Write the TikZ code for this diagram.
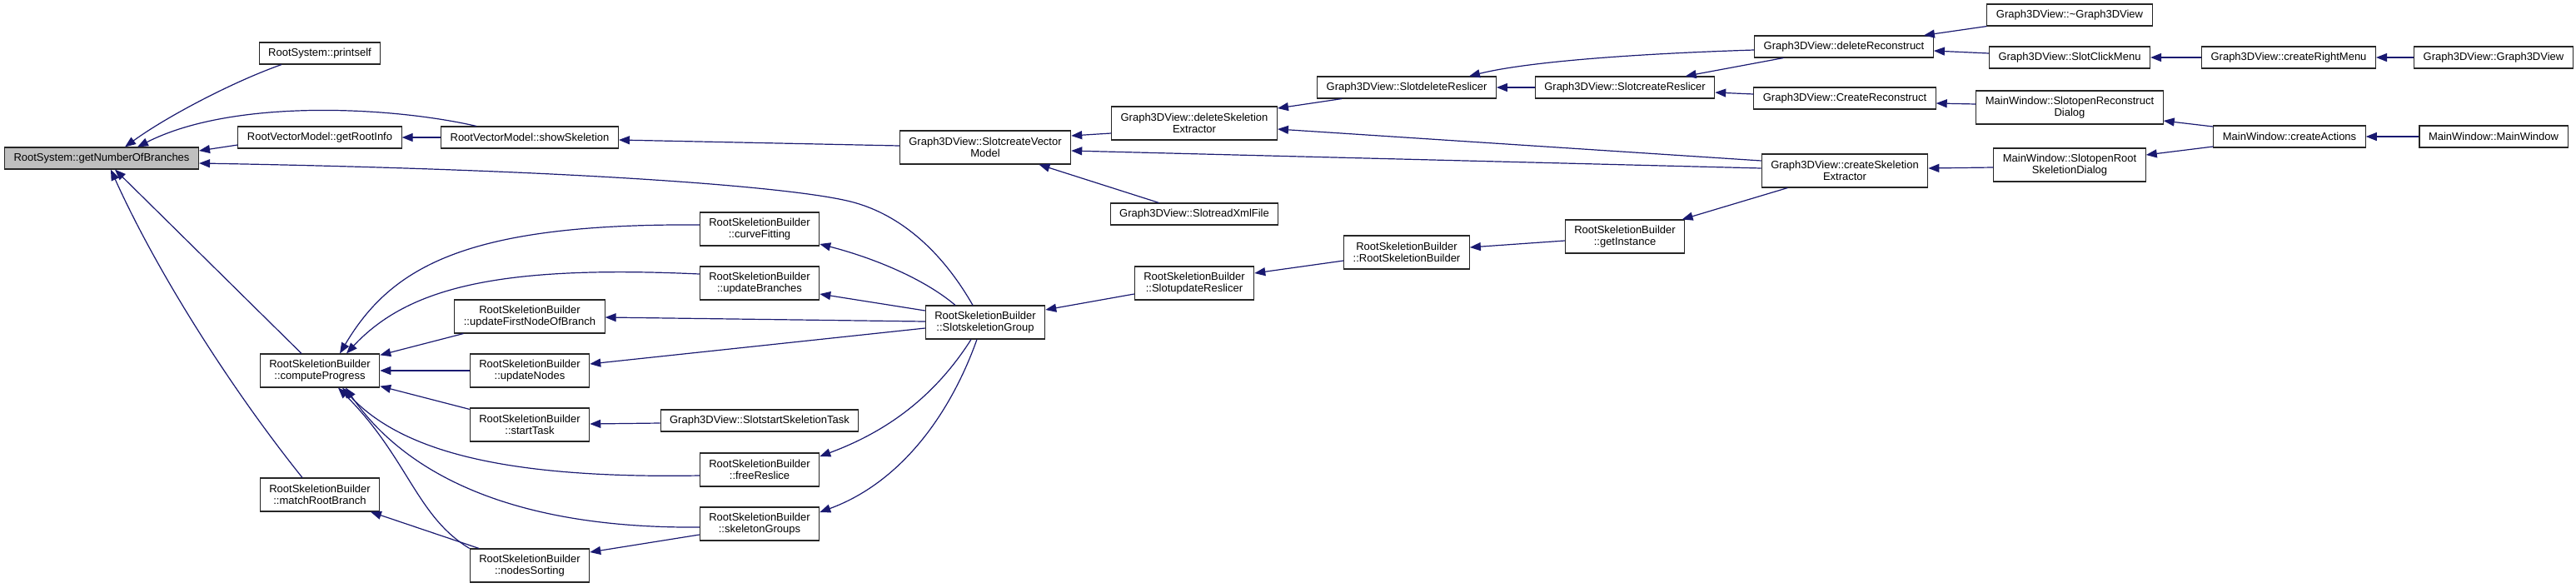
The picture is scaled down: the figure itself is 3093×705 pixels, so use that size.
\documentclass[tikz,border=0pt]{standalone}
\usepackage{fontspec}
\setmainfont{Liberation Sans}
\usetikzlibrary{arrows.meta,calc}
\definecolor{callblue}{HTML}{191970}
\definecolor{rootgrey}{HTML}{BFBFBF}
\tikzset{>={Triangle[length=13pt,width=10pt]},every node/.style={font=\fontsize{13}{14.5}\selectfont},
fn/.style={draw=black!85,line width=1.1pt,fill=white,inner xsep=11pt,inner ysep=2pt,minimum height=26pt,align=center},
fn2/.style={fn,minimum height=40pt},root/.style={fn,fill=rootgrey},call/.style={->,draw=callblue,line width=1.2pt}}
\begin{document}
\begin{tikzpicture}[x=1pt,y=-1pt]
\useasboundingbox (0,0) rectangle (3093,705);
% functions, column by column
\node[root] (nob) at (122,190) {RootSystem::getNumberOfBranches};
\node[fn] (prt) at (384,64) {RootSystem::printself};
\node[fn] (rinfo) at (384,165) {RootVectorModel::getRootInfo};
\node[fn2] (cprog) at (384,445) {RootSkeletionBuilder\\::computeProgress};
\node[fn2] (mrb) at (384,594) {RootSkeletionBuilder\\::matchRootBranch};
\node[fn] (skel) at (636,165) {RootVectorModel::showSkeletion};
\node[fn2] (ufn) at (636,380) {RootSkeletionBuilder\\::updateFirstNodeOfBranch};
\node[fn2] (unodes) at (636,445) {RootSkeletionBuilder\\::updateNodes};
\node[fn2] (stask) at (636,510) {RootSkeletionBuilder\\::startTask};
\node[fn2] (nsort) at (636,679) {RootSkeletionBuilder\\::nodesSorting};
\node[fn2] (cfit) at (912,275) {RootSkeletionBuilder\\::curveFitting};
\node[fn2] (ubr) at (912,340) {RootSkeletionBuilder\\::updateBranches};
\node[fn] (sst) at (912,505) {Graph3DView::SlotstartSkeletionTask};
\node[fn2] (frs) at (912,564) {RootSkeletionBuilder\\::freeReslice};
\node[fn2] (sgs) at (912,629) {RootSkeletionBuilder\\::skeletonGroups};
\node[fn2] (cvm) at (1183,177) {Graph3DView::SlotcreateVector\\Model};
\node[fn2] (ssg) at (1183,387) {RootSkeletionBuilder\\::SlotskeletionGroup};
\node[fn2] (dse) at (1434,148) {Graph3DView::deleteSkeletion\\Extractor};
\node[fn] (rxml) at (1434,257) {Graph3DView::SlotreadXmlFile};
\node[fn2] (sur) at (1434,340) {RootSkeletionBuilder\\::SlotupdateReslicer};
\node[fn] (sdr) at (1689,105) {Graph3DView::SlotdeleteReslicer};
\node[fn2] (rsb) at (1689,303) {RootSkeletionBuilder\\::RootSkeletionBuilder};
\node[fn] (scr) at (1951,105) {Graph3DView::SlotcreateReslicer};
\node[fn2] (ginst) at (1951,284) {RootSkeletionBuilder\\::getInstance};
\node[fn] (drec) at (2214,56) {Graph3DView::deleteReconstruct};
\node[fn] (crec) at (2215,118) {Graph3DView::CreateReconstruct};
\node[fn2] (cse) at (2215,205) {Graph3DView::createSkeletion\\Extractor};
\node[fn] (dtor) at (2485,18) {Graph3DView::\textasciitilde Graph3DView};
\node[fn] (sclick) at (2485,69) {Graph3DView::SlotClickMenu};
\node[fn2] (sord) at (2485,129) {MainWindow::SlotopenReconstruct\\Dialog};
\node[fn2] (sorsd) at (2485,198) {MainWindow::SlotopenRoot\\SkeletionDialog};
\node[fn] (crm) at (2748,69) {Graph3DView::createRightMenu};
\node[fn] (cact) at (2749,164) {MainWindow::createActions};
\node[fn] (ctor) at (2994,69) {Graph3DView::Graph3DView};
\node[fn] (mwin) at (2994,164) {MainWindow::MainWindow};
% calls into the first columns
\draw[call] ($(prt.south)+(-46,0)$) .. controls (280,98) and (200,140) .. ($(nob.north)+(28,0)$);
\draw[call] ($(skel.north)+(-64,0)$) .. controls (470,128) and (280,118) .. ($(nob.north)+(43,0)$);
\draw[call] ($(rinfo.west)+(0,9)$) -- ($(nob.east)+(0,-9)$);
\draw[call] ($(ssg.north)+(-15,0)$) .. controls (1130,300) and (1080,258) .. (1025,243) .. controls (960,225) and (700,204) .. ($(nob.east)+(0,6)$);
\draw[call] ($(cprog.north)+(-22,0)$) -- ($(nob.south)+(16,0)$);
\draw[call] ($(mrb.north)+(-21,0)$) .. controls (280,470) and (190,330) .. ($(nob.south)+(11,0)$);
\draw[call] ($(cvm.west)+(0,-2)$) -- ($(skel.east)+(0,3)$);
\draw[call] (skel) -- (rinfo);
\draw[call] ($(cfit.west)+(0,-5)$) .. controls (560,268) and (470,320) .. ($(cprog.north)+(24,0)$);
\draw[call] ($(ubr.west)+(0,-11)$) .. controls (600,318) and (490,345) .. ($(cprog.north)+(32,0)$);
\draw[call] (ufn) -- (cprog);
\draw[call] (unodes) -- (cprog);
\draw[call] (stask) -- (cprog);
\draw[call] ($(frs.west)+(0,7)$) .. controls (600,575) and (480,540) .. ($(cprog.south)+(27,0)$);
\draw[call] ($(sgs.west)+(0,4)$) .. controls (600,635) and (480,560) .. ($(cprog.south)+(31,0)$);
\draw[call] (nsort.north west) .. controls (500,620) and (490,550) .. ($(cprog.south)+(22,0)$);
\draw[call] (nsort) -- (mrb);
\draw[call] ($(sgs.west)+(0,13)$) -- ($(nsort.east)+(0,-16)$);
\draw[call] ($(sst.west)+(0,3)$) -- ($(stask.east)+(0,-1)$);
% calls from SlotskeletionGroup
\draw[call] ($(ssg.north)+(-36,0)$) .. controls (1110,335) and (1050,310) .. ($(cfit.east)+(0,18)$);
\draw[call] ($(ssg.west)+(0,-14)$) -- ($(ubr.east)+(0,13)$);
\draw[call] ($(ssg.west)+(0,-1)$) -- ($(ufn.east)+(0,1)$);
\draw[call] ($(ssg.west)+(0,7)$) -- ($(unodes.east)+(0,-8)$);
\draw[call] ($(ssg.south)+(-17,0)$) .. controls (1120,480) and (1060,520) .. ($(frs.east)+(0,-16)$);
\draw[call] ($(ssg.south)+(-10,0)$) .. controls (1140,500) and (1080,580) .. ($(sgs.east)+(0,-14)$);
\draw[call] ($(sur.west)+(0,13)$) -- ($(ssg.east)+(0,-15)$);
% Graph3DView side
\draw[call] (rxml) -- (cvm);
\draw[call] ($(dse.west)+(0,12)$) -- ($(cvm.east)+(0,-14)$);
\draw[call] ($(cse.west)+(0,-3)$) -- ($(cvm.east)+(0,4)$);
\draw[call] ($(cse.west)+(0,-12)$) -- ($(dse.east)+(0,7)$);
\draw[call] ($(sdr.south west)+(30,0)$) -- ($(dse.east)+(0,-18)$);
\draw[call] (scr) -- (sdr);
\draw[call] ($(drec.west)+(0,4)$) .. controls (1950,65) and (1830,75) .. ($(sdr.north)+(75,0)$);
\draw[call] (drec) -- (scr);
\draw[call] ($(crec.west)+(0,-5)$) -- ($(scr.east)+(0,6)$);
\draw[call] (cse) -- (ginst);
\draw[call] ($(ginst.west)+(0,5)$) -- ($(rsb.east)+(0,-6)$);
\draw[call] ($(rsb.west)+(0,10)$) -- ($(sur.east)+(0,-12)$);
\draw[call] (dtor.south west) -- ($(drec.north east)+(-12,0)$);
\draw[call] ($(sclick.west)+(0,-5)$) -- ($(drec.east)+(0,5)$);
\draw[call] (crm) -- (sclick);
\draw[call] (ctor) -- (crm);
\draw[call] ($(sord.west)+(0,-4)$) -- ($(crec.east)+(0,6)$);
\draw[call] ($(sorsd.west)+(0,3)$) -- ($(cse.east)+(0,-3)$);
\draw[call] ($(cact.west)+(0,-12)$) -- ($(sord.east)+(0,16)$);
\draw[call] ($(cact.west)+(0,12)$) -- ($(sorsd.east)+(0,-12)$);
\draw[call] (mwin) -- (cact);
\end{tikzpicture}
\end{document}
